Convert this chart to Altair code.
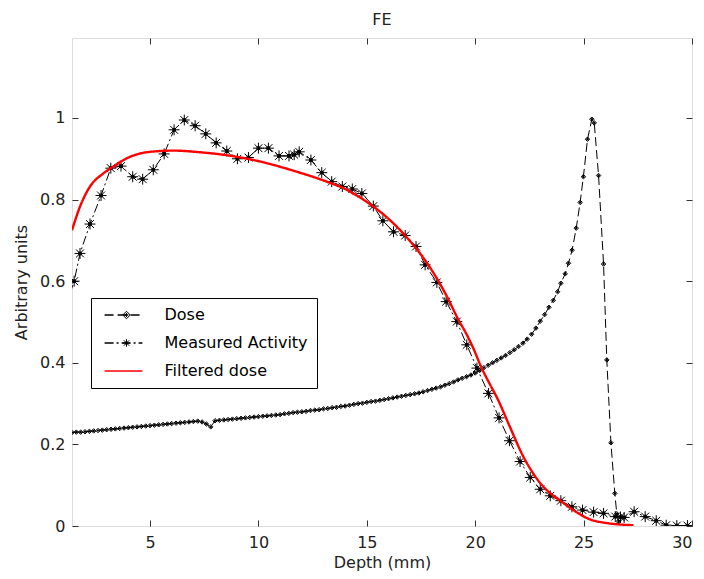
import altair as alt
import pandas as pd

# ---------------- data ----------------
dose_depth = [1.4, 1.6, 1.8, 2.0, 2.2, 2.4, 2.6, 2.8, 3.0, 3.2, 3.4, 3.6, 3.8, 4.0, 4.2, 4.4, 4.6, 4.8,
              5.0, 5.2, 5.4, 5.6, 5.8, 6.0, 6.2, 6.4, 6.6, 6.8, 7.0, 7.2, 7.4, 7.6, 7.8, 8.0, 8.2, 8.4,
              8.6, 8.8, 9.0, 9.2, 9.4, 9.6, 9.8, 10.0, 10.2, 10.4, 10.6, 10.8, 11.0, 11.2, 11.4, 11.6,
              11.8, 12.0, 12.2, 12.4, 12.6, 12.8, 13.0, 13.2, 13.4, 13.6, 13.8, 14.0, 14.2, 14.4, 14.6,
              14.8, 15.0, 15.2, 15.4, 15.6, 15.8, 16.0, 16.2, 16.4, 16.6, 16.8, 17.0, 17.2, 17.4, 17.6,
              17.8, 18.0, 18.2, 18.4, 18.6, 18.8, 19.0, 19.2, 19.4, 19.6, 19.8, 20.0, 20.2, 20.4, 20.6,
              20.8, 21.0, 21.2, 21.4, 21.6, 21.8, 22.0, 22.2, 22.4, 22.6, 22.8, 23.0, 23.2,
              23.4, 23.6, 23.8, 23.95, 24.15, 24.3, 24.47, 24.66, 24.84, 24.99, 25.18, 25.38, 25.49,
              25.69, 25.92, 26.07, 26.26, 26.44, 26.53, 26.62]
dose_value = [0.229, 0.230, 0.230, 0.231, 0.232, 0.233, 0.234, 0.235, 0.236, 0.237, 0.238, 0.239,
              0.240, 0.241, 0.242, 0.243, 0.244, 0.245, 0.246, 0.247, 0.248, 0.249, 0.250, 0.251,
              0.252, 0.253, 0.254, 0.255, 0.256, 0.257, 0.255, 0.250, 0.243, 0.258, 0.259, 0.260,
              0.261, 0.262, 0.263, 0.264, 0.265, 0.266, 0.267, 0.268, 0.269, 0.270, 0.271, 0.272,
              0.273, 0.275, 0.276, 0.278, 0.279, 0.280, 0.281, 0.283, 0.284, 0.285, 0.287, 0.288,
              0.290, 0.291, 0.293, 0.294, 0.296, 0.298, 0.300, 0.301, 0.303, 0.305, 0.306, 0.308,
              0.310, 0.312, 0.314, 0.316, 0.318, 0.320, 0.322, 0.324, 0.326, 0.329, 0.332, 0.335,
              0.338, 0.341, 0.345, 0.349, 0.353, 0.358, 0.362, 0.366, 0.370, 0.375, 0.381, 0.388,
              0.394, 0.400, 0.406, 0.412, 0.418, 0.425, 0.432, 0.440, 0.448, 0.458, 0.470, 0.485,
              0.502, 0.518,
              0.536, 0.553, 0.574, 0.595, 0.618, 0.644, 0.676, 0.730, 0.793, 0.856, 0.948, 0.997,
              0.988, 0.859, 0.642, 0.407, 0.204, 0.080, 0.030, 0.010]

act_depth = [1.05, 1.50, 1.77, 2.23, 2.74, 3.19, 3.66, 4.20, 4.66, 5.15, 5.65, 6.11, 6.58, 7.08,
             7.57, 8.05, 8.54, 9.03, 9.54, 10.00, 10.46, 10.95, 11.41, 11.65, 11.88, 12.42, 12.92,
             13.38, 13.87, 14.33, 14.77, 15.30, 15.74, 16.23, 16.77, 17.27, 17.69, 18.23, 18.66,
             19.15, 19.61, 20.08, 20.61, 21.10, 21.58, 22.07, 22.54, 23.00, 23.46, 23.95, 24.46,
             24.95, 25.46, 25.92, 26.46, 26.70, 26.87, 27.33, 27.84, 28.35, 28.81, 29.30, 29.79]
act_value = [0.530, 0.600, 0.668, 0.740, 0.810, 0.877, 0.882, 0.856, 0.850, 0.873, 0.912, 0.971,
             0.995, 0.981, 0.961, 0.939, 0.919, 0.900, 0.903, 0.926, 0.926, 0.907, 0.907, 0.910,
             0.917, 0.897, 0.866, 0.844, 0.832, 0.826, 0.815, 0.784, 0.748, 0.721, 0.712, 0.685,
             0.640, 0.597, 0.550, 0.501, 0.444, 0.387, 0.325, 0.265, 0.209, 0.158, 0.119, 0.090,
             0.074, 0.062, 0.047, 0.039, 0.034, 0.031, 0.023, 0.022, 0.021, 0.035, 0.023, 0.013,
             0.002, 0.001, 0.001]

filt_depth = [1.4, 1.77, 2.23, 2.84, 3.31, 3.92, 4.54, 5.2, 6.1, 7.3, 8.5, 10.1, 11.6, 13.2, 14.0,
              14.6, 15.3, 16.1, 16.8, 17.5, 18.1, 18.7, 19.2, 19.6, 19.9, 20.3, 20.7, 21.0, 21.6,
              22.2, 22.6, 23.0, 23.4, 23.8, 24.5, 25.3, 26.1, 27.3]
filt_value = [0.725, 0.783, 0.832, 0.864, 0.881, 0.901, 0.913, 0.918, 0.920, 0.916, 0.909, 0.893,
              0.871, 0.843, 0.826, 0.808, 0.783, 0.748, 0.710, 0.665, 0.618, 0.562, 0.508, 0.470,
              0.437, 0.387, 0.345, 0.315, 0.243, 0.172, 0.135, 0.105, 0.083, 0.067, 0.040, 0.016,
              0.007, 0.002]

SERIES = ["Dose", "Measured Activity", "Filtered dose"]
X_TICKS = [5, 10, 15, 20, 25, 30]
Y_TICKS = [0, 0.2, 0.4, 0.6, 0.8, 1.0]

# ---------------- tables ----------------
def table(depth, value, name):
    return pd.DataFrame({"depth": depth, "value": value, "series": name,
                         "marker": name, "idx": list(range(len(depth)))})

dose_df = table(dose_depth, dose_value, "Dose")
act_df = table(act_depth, act_value, "Measured Activity")
filt_df = table(filt_depth, filt_value, "Filtered dose")
black_df = pd.concat([dose_df, act_df], ignore_index=True)

FONT = "DejaVu Sans"
FRAME = "#333333"
ASTER = ("M-1,0L1,0M0,-1L0,1M-0.72,-0.72L0.72,0.72M-0.72,0.72L0.72,-0.72"
         "M-0.25,-0.25L0.25,-0.25L0.25,0.25L-0.25,0.25Z")
DOT = "M0,-1L1,0L0,1L-1,0Z M-0.55,0L0.55,0 M0,-0.55L0,0.55 M-0.3,-0.3L0.3,0.3 M-0.3,0.3L0.3,-0.3"
LEG_LINE = "M-3.05,0L3.05,0"

xscale = alt.Scale(domain=[1.4, 30], nice=False, zero=False)
yscale = alt.Scale(domain=[0, 1.196], nice=False, zero=False)

x_bottom = alt.Axis(orient="bottom", values=X_TICKS, grid=False, domain=False, ticks=True,
                    tickSize=6, offset=-6, tickColor=FRAME, labelPadding=8, labelFlush=True,
                    labelFont=FONT, labelFontSize=16, labelColor="#222",
                    title="Depth (mm)", titleFont=FONT, titleFontSize=16,
                    titleFontWeight="normal", titleColor="#222", titlePadding=4)
y_left = alt.Axis(orient="left", values=Y_TICKS, format="~g", grid=False, domain=False,
                  ticks=True, tickSize=6, offset=-6, tickColor=FRAME, labelPadding=7,
                  labelFlush=False,
                  labelFont=FONT, labelFontSize=16, labelColor="#222",
                  title="Arbitrary units", titleFont=FONT, titleFontSize=16,
                  titleFontWeight="normal", titleColor="#222", titlePadding=10)

legend_lines = alt.Legend(
    title=None, orient="none", legendX=19, legendY=260,
    symbolType=LEG_LINE, symbolSize=154, symbolStrokeWidth=1.3,
    symbolOffset=15.5, labelOffset=33, labelFont=FONT, labelFontSize=16,
    labelColor="black", padding=9, rowPadding=12,
    strokeColor="black", fillColor="white",
)
legend_marks = alt.Legend(
    title=None, orient="none", legendX=19, legendY=260,
    symbolSize=56, symbolOffset=18.5, symbolStrokeWidth=1,
    symbolStrokeColor="black",
    labelExpr="' '", labelFont=FONT, labelFontSize=16,
    padding=9, rowPadding=12, zindex=1,
)

color_enc = alt.Color("series:N", scale=alt.Scale(domain=SERIES, range=["black", "black", "red"]),
                      legend=legend_lines)
dash_enc = alt.StrokeDash("series:N",
                          scale=alt.Scale(domain=SERIES, range=[[9, 4], [9, 3, 2, 3], [1, 0]]),
                          legend=legend_lines)

black_lines = alt.Chart(black_df).mark_line(clip=True, strokeWidth=1).encode(
    x=alt.X("depth:Q", scale=xscale, axis=x_bottom),
    y=alt.Y("value:Q", scale=yscale, axis=y_left),
    order="idx:Q", color=color_enc, strokeDash=dash_enc,
)

points = alt.Chart(black_df).mark_point(clip=True, filled=False, color="black",
                                        strokeWidth=1, opacity=1).encode(
    x=alt.X("depth:Q", scale=xscale),
    y=alt.Y("value:Q", scale=yscale),
    shape=alt.Shape("marker:N", scale=alt.Scale(domain=SERIES[:2], range=[DOT, ASTER]),
                    legend=legend_marks),
    size=alt.condition(alt.datum.marker == "Dose", alt.value(20), alt.value(120)),
)

red_line = alt.Chart(filt_df).mark_line(clip=True, interpolate="monotone", strokeWidth=2.4).encode(
    x=alt.X("depth:Q", scale=xscale),
    y=alt.Y("value:Q", scale=yscale),
    order="idx:Q", color=color_enc, strokeDash=dash_enc,
)

main = alt.layer(black_lines, points, red_line)

box_ticks = alt.Chart(filt_df).mark_line(opacity=0).encode(
    x=alt.X("depth:Q", scale=xscale,
            axis=alt.Axis(orient="top", values=X_TICKS, labels=False, grid=False, domain=False,
                          ticks=True, tickSize=6, offset=-6, tickColor=FRAME, title=None)),
    y=alt.Y("value:Q", scale=yscale,
            axis=alt.Axis(orient="right", values=Y_TICKS, labels=False, grid=False, domain=False,
                          ticks=True, tickSize=6, offset=-6, tickColor=FRAME, title=None)),
)

# total size 688 x 563 so that the page (8px margins) does not overflow the 704x579 window
chart = alt.layer(main, box_ticks).resolve_scale(x="independent", y="independent").properties(
    width=620, height=488,
    padding={"left": 64, "top": 30, "right": 4, "bottom": 45},
    autosize=alt.AutoSizeParams(type="none"),
    title=alt.Title("FE", font=FONT, fontSize=16, fontWeight="normal", color="#222", offset=10),
).configure_view(stroke=FRAME, strokeWidth=1.3).configure(background="white")

chart.save("out.html", embed_options={"renderer": "svg", "actions": False})
